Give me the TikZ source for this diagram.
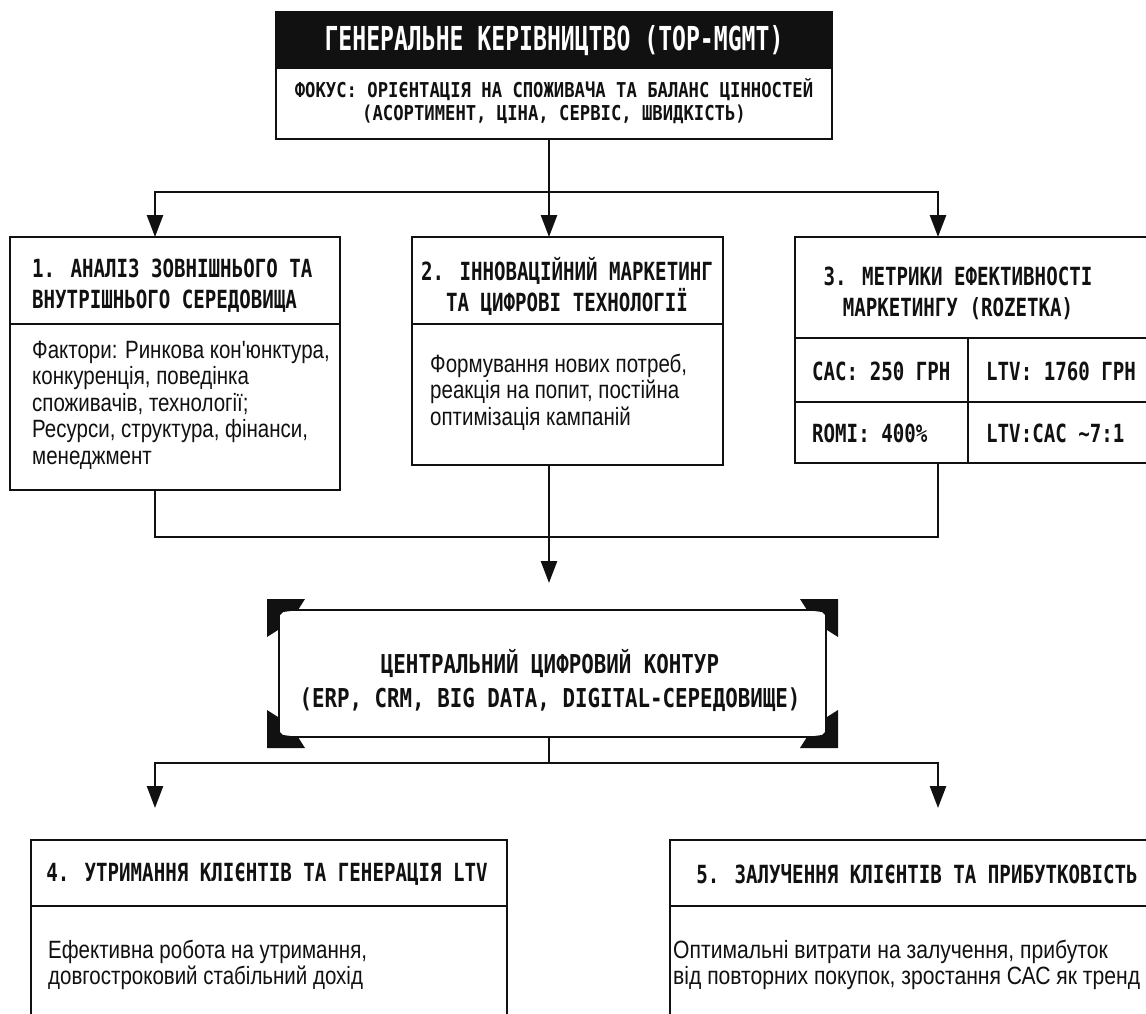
\documentclass[tikz,border=0pt]{standalone}
\usepackage{fontspec}
\usetikzlibrary{arrows.meta}
% condensed monospaced faces for captions, a narrow sans for running text
\newfontfamily\titlef[FakeStretch=0.70]{DejaVu Sans Mono}
\newfontfamily\subf[FakeStretch=0.84]{DejaVu Sans Mono}
\newfontfamily\headf[FakeStretch=0.765]{DejaVu Sans Mono}
\newfontfamily\coref[FakeStretch=0.80]{DejaVu Sans Mono}
\newfontfamily\bodyf[FakeStretch=0.82]{Liberation Sans}
\definecolor{ink}{HTML}{111111}

\tikzset{
  frame/.style={draw=ink, line width=2.6pt, inner sep=0pt, outer sep=0pt, anchor=north west},
  wire/.style={draw=ink, line width=2.6pt, line cap=rect},
  arr/.style={draw=ink, line width=2.6pt, -{Triangle[width=16pt,length=22pt]}},
  split/.style={draw=ink, line width=2.6pt},
  title/.style={text=white, inner sep=0pt, font=\titlef\bfseries\fontsize{33}{36}\selectfont},
  subtitle/.style={text=ink, inner sep=0pt, align=center, font=\subf\bfseries\fontsize{20.5}{23}\selectfont},
  head/.style={text=ink, inner sep=0pt, font=\headf\bfseries\fontsize{25}{31}\selectfont},
  cell/.style={text=ink, inner sep=0pt, anchor=west, font=\headf\bfseries\fontsize{25}{31}\selectfont},
  core/.style={text=ink, inner sep=0pt, align=center, font=\coref\bfseries\fontsize{26}{34}\selectfont},
  body/.style={text=ink, inner sep=0pt, anchor=west, align=left, font=\bodyf\fontsize{25}{26.5}\selectfont},
}

\begin{document}
\begin{tikzpicture}[x=1pt, y=-1pt]
\useasboundingbox (0,0) rectangle (1146,1014);
\fill[white] (0,0) rectangle (1146,1014);
\clip (0,0) rectangle (1146,1014);

% ---------- top management ----------
\node[frame, fill=ink, minimum width=556pt, minimum height=56pt] (tophead) at (276,12) {};
\node[frame, minimum width=556pt, minimum height=127pt] (top) at (276,12) {};
\node[title] (toptitle) at (554,41) {ГЕНЕРАЛЬНЕ КЕРІВНИЦТВО (TOP-MGMT)};
\node[subtitle] (topfocus) at (554,101) {ФОКУС: ОРІЄНТАЦІЯ НА СПОЖИВАЧА ТА БАЛАНС ЦІННОСТЕЙ\\(АСОРТИМЕНТ, ЦІНА, СЕРВІС, ШВИДКІСТЬ)};

% ---------- block 1 ----------
\node[frame, minimum width=330pt, minimum height=253pt] (b1) at (10,237) {};
\draw[split] (10,324) -- (340,324);
\node[head, anchor=west, align=left] (b1head) at (32,286) {1. АНАЛІЗ ЗОВНІШНЬОГО ТА\\ВНУТРІШНЬОГО СЕРЕДОВИЩА};
\node[body] (b1text) at (32,405) {Фактори: Ринкова кон'юнктура,\\конкуренція, поведінка\\споживачів, технології;\\Ресурси, структура, фінанси,\\менеджмент};

% ---------- block 2 ----------
\node[frame, minimum width=311pt, minimum height=228pt] (b2) at (412,237) {};
\draw[split] (412,324) -- (723,324);
\node[head, align=center] (b2head) at (567,286) {2. ІННОВАЦІЙНИЙ МАРКЕТИНГ\\ТА ЦИФРОВІ ТЕХНОЛОГІЇ};
\node[body] (b2text) at (430,392) {Формування нових потреб,\\реакція на попит, постійна\\оптимізація кампаній};

% ---------- block 3 ----------
\node[frame, minimum width=357pt, minimum height=226pt] (b3) at (795,237) {};
\draw[split] (795,338) -- (1152,338);
\draw[split] (795,402) -- (1152,402);
\draw[split] (968,338) -- (968,463);
\node[head, align=center] (b3head) at (958,293) {3. МЕТРИКИ ЕФЕКТИВНОСТІ\\МАРКЕТИНГУ (ROZETKA)};
\node[cell] (cac) at (812,371) {CAC: 250 ГРН};
\node[cell] (ltv) at (986,371) {LTV: 1760 ГРН};
\node[cell] (romi) at (812,433) {ROMI: 400\%};
\node[cell] (ratio) at (986,433) {LTV:CAC {\char"7E}7:1};

% ---------- central digital loop ----------
\node[frame, minimum width=547pt, minimum height=127pt] (loop) at (279,610) {};
\foreach \cx/\cy/\sx/\sy in {267/599/1/1, 838/599/-1/1, 267/748/1/-1, 838/748/-1/-1}
  \fill[ink, shift={(\cx,\cy)}, xscale=\sx, yscale=\sy]
    (0,0) -- (38,0) -- (31,11) -- (16,13) -- (13,16) -- (11,31) -- (0,38) -- cycle;
\node[core] (looptext) at (550,680) {ЦЕНТРАЛЬНИЙ ЦИФРОВИЙ КОНТУР\\(ERP, CRM, BIG DATA, DIGITAL-СЕРЕДОВИЩЕ)};

% ---------- block 4 ----------
\node[frame, minimum width=476pt, minimum height=200pt] (b4) at (31,840) {};
\draw[split] (31,906) -- (507,906);
\node[head] (b4head) at (267,874) {4. УТРИМАННЯ КЛІЄНТІВ ТА ГЕНЕРАЦІЯ LTV};
\node[body] (b4text) at (48,965) {Ефективна робота на утримання,\\довгостроковий стабільний дохід};

% ---------- block 5 ----------
\node[frame, minimum width=495pt, minimum height=200pt] (b5) at (670,840) {};
\draw[split] (670,906) -- (1165,906);
\node[head] (b5head) at (917,874) {5. ЗАЛУЧЕННЯ КЛІЄНТІВ ТА ПРИБУТКОВІСТЬ};
\node[body, xscale=1.03] (b5text) at (673,965) {Оптимальні витрати на залучення, прибуток\\від повторних покупок, зростання САС як тренд};

% ---------- connectors ----------
\coordinate (hubA) at (549,192);
\coordinate (hubL) at (155,192);
\coordinate (hubR) at (938,192);
\draw[wire] (top.south -| hubA) -- (hubA);
\draw[wire] (hubL) -- (hubR);
\draw[arr] (hubL) -- (hubL |- b1.north);
\draw[arr] (hubA) -- (hubA |- b2.north);
\draw[arr] (hubR) -- (hubR |- b3.north);

\coordinate (mL) at (155,537);
\coordinate (mR) at (938,537);
\coordinate (mA) at (549,537);
\draw[wire] (b1.south -| mL) -- (mL) -- (mR) -- (b3.south -| mR);
\draw[arr, shorten >=27pt] (b2.south -| mA) -- (mA |- loop.north);

\coordinate (lA) at (549,763);
\coordinate (lL) at (155,763);
\coordinate (lR) at (938,763);
\draw[wire] (loop.south -| lA) -- (lA);
\draw[wire] (lL) -- (lR);
\draw[arr, shorten >=32pt] (lL) -- (lL |- b4.north);
\draw[arr, shorten >=32pt] (lR) -- (lR |- b5.north);
\end{tikzpicture}
\end{document}
